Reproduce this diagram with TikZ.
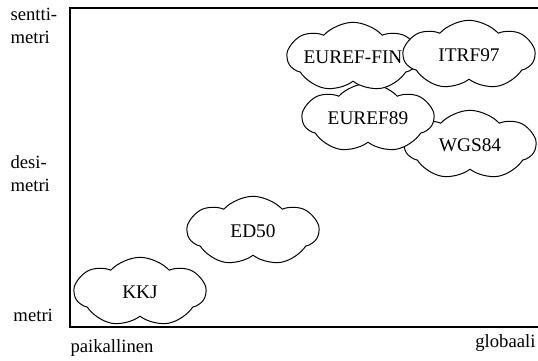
\documentclass[tikz,border=0pt]{standalone}
\usepackage{fontspec}
\setmainfont{Liberation Serif}
\usetikzlibrary{shapes.symbols}

\tikzset{every picture/.style={line width=0.75pt}}
\tikzset{
  pilvi/.style={cloud, cloud puffs=7, cloud puff arc=95, cloud ignores aspect, draw, fill=white,
    inner sep=0pt, minimum width=98pt, minimum height=52pt,
    label={[font=\fontsize{14.5}{16}\selectfont, inner sep=0pt]center:#1}},
  merkki/.style={inner sep=0.75pt, align=left, font=\fontsize{14}{17}\selectfont}
}

\begin{document}
\begin{tikzpicture}[x=0.75pt,y=0.75pt,yscale=-1,xscale=1]
		\useasboundingbox (0,0) rectangle (538,360);
		
		%Shape: Axes
		\draw [line width=1.5]  (538,8) -- (70,8) -- (70,327) -- (538,327) ;
		
		%Shape: Clouds
		\node [pilvi=KKJ] (kkj) at (140,292) {};
		\node [pilvi=ED50] (ed50) at (253,231) {};
		\node [pilvi=WGS84] (wgs84) at (470,145) {};
		\node [pilvi=EUREF89] (euref89) at (368,118) {};
		\node [pilvi=EUREF-FIN] (eureffin) at (353,57) {};
		\node [pilvi=ITRF97] (itrf97) at (469,55) {};
		
		\draw (9,7) node [anchor=north west][merkki]  {sentti-\\metri};
		\draw (9,154) node [anchor=north west][merkki]  {desi-\\metri};
		\draw (12,315) node [anchor=west][merkki]  {metri};
		\draw (69,348) node [anchor=west][merkki]  {paikallinen};
		\draw (537,343) node [anchor=east][merkki]  {globaali};
		
\end{tikzpicture}
\end{document}
